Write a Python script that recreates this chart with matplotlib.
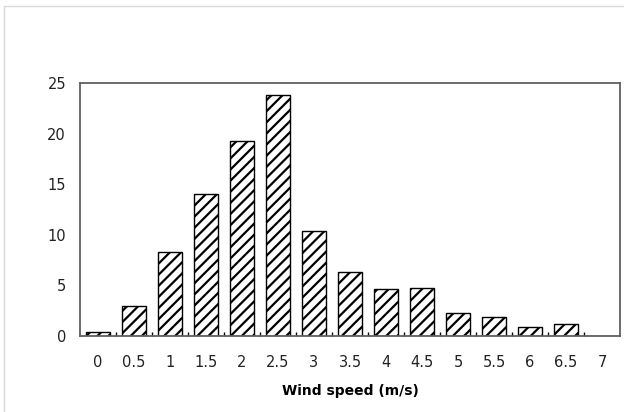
import matplotlib.pyplot as plt
from matplotlib.patches import Rectangle

# data
speeds = ['0', '0.5', '1', '1.5', '2', '2.5', '3', '3.5', '4', '4.5',
          '5', '5.5', '6', '6.5', '7']
freq = [0.4, 3.0, 8.3, 14.0, 19.3, 23.85, 10.4, 6.35, 4.6, 4.7,
        2.25, 1.9, 0.9, 1.15, 0.0]
yticks = [0, 5, 10, 15, 20, 25]

plt.rcParams['font.family'] = ['Liberation Sans Narrow', 'DejaVu Sans']
plt.rcParams['hatch.linewidth'] = 1.6

fig = plt.figure(figsize=(6.24, 4.12), dpi=100)
ax = fig.add_axes([80 / 624, 1 - 336 / 412, 540 / 624, 253 / 412])

# outer chart border
fig.patches.append(Rectangle((4 / 624, -0.1), 2, 1 - 6 / 412 + 0.1,
                             transform=fig.transFigure, fill=False,
                             edgecolor='#d9d9d9', lw=1))

x = list(range(len(speeds)))
ax.bar(x, freq, width=0.69, color='white', edgecolor='black',
       hatch='///', lw=1)

ax.set_xlim(-0.5, len(speeds) - 0.5)
ax.set_ylim(0, 25)
ax.set_xticks(x)
ax.set_xticklabels(speeds)
ax.set_xticks([i + 0.5 for i in x[:-1]], minor=True)
ax.set_yticks(yticks)
ax.tick_params(axis='x', which='major', length=0, pad=14, labelsize=10.5,
               labelcolor='#222222')
ax.tick_params(axis='x', which='minor', direction='in', length=3,
               width=1, color='black')
ax.tick_params(axis='y', length=0, pad=10, labelsize=10.5,
               labelcolor='#222222')

for s in ax.spines.values():
    s.set_color('#606060')
    s.set_linewidth(1.3)

ax.set_xlabel('Wind speed (m/s)', fontsize=10, fontweight='bold',
              family='DejaVu Sans', labelpad=10)

fig.savefig('out.png', dpi=100)
